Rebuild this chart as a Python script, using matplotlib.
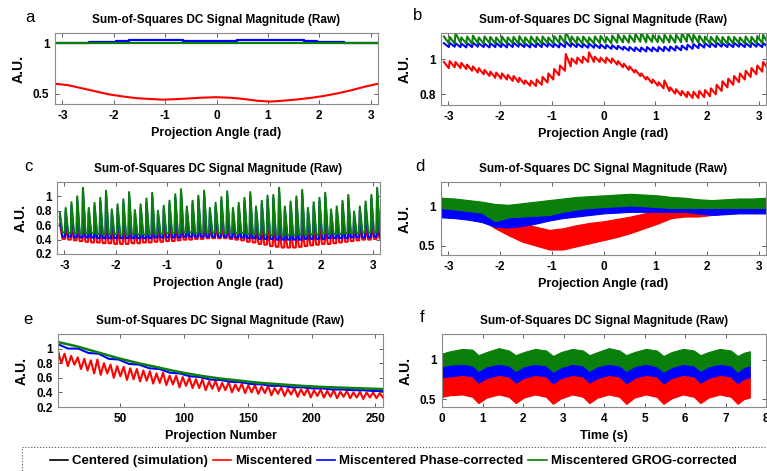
import numpy as np
import matplotlib
matplotlib.use("Agg")
import matplotlib.pyplot as plt
from matplotlib.patches import Rectangle
from matplotlib.lines import Line2D
from matplotlib.ticker import FuncFormatter

plt.rcParams['font.family'] = ['Liberation Sans', 'DejaVu Sans']
plt.rcParams['font.weight'] = 'bold'
plt.rcParams['axes.labelweight'] = 'bold'
plt.rcParams['axes.unicode_minus'] = False

RED = '#ff0000'
BLUE = '#0000ff'
GREEN = '#0a7f0a'
BLACK = '#000000'

TITLE = "Sum-of-Squares DC Signal Magnitude (Raw)"
legend_labels = ["Centered (simulation)", "Miscentered",
                 "Miscentered Phase-corrected", "Miscentered GROG-corrected"]

# ---- panel a : simulation, 25 angles from -pi to pi
a_red = [0.600, 0.585, 0.555, 0.525, 0.495, 0.475, 0.458, 0.450, 0.443, 0.448,
         0.455, 0.463, 0.467, 0.462, 0.450, 0.432, 0.424, 0.433, 0.445, 0.460,
         0.480, 0.505, 0.535, 0.570, 0.600]
a_blue = [1.0, 1.0, 1.0, 1.01, 1.015, 1.02, 1.03, 1.03, 1.03, 1.03,
          1.025, 1.02, 1.02, 1.02, 1.03, 1.03, 1.03, 1.03, 1.03, 1.02,
          1.015, 1.01, 1.005, 1.0, 1.0]
a_black = [1.0, 1.0]
a_green = [1.005, 1.005]

# ---- panel b : 56 projections, peak / trough of each tooth
b_red_hi = [0.985, 0.99, 0.985, 0.98, 0.97, 0.96, 0.95, 0.94, 0.93, 0.925,
            0.92, 0.912, 0.905, 0.895, 0.88, 0.878, 0.885, 0.9, 0.92, 0.945,
            0.965, 1.03, 1.005, 1.01, 1.015, 1.04, 1.015, 1.01, 1.01, 1.005,
            0.99, 0.975, 0.96, 0.94, 0.92, 0.9, 0.885, 0.87, 0.88, 0.84,
            0.83, 0.82, 0.815, 0.815, 0.82, 0.825, 0.835, 0.855, 0.875, 0.89,
            0.905, 0.92, 0.935, 0.95, 0.965, 0.985]
b_red_lo = [0.95, 0.955, 0.95, 0.945, 0.935, 0.925, 0.915, 0.905, 0.895, 0.89,
            0.885, 0.877, 0.87, 0.86, 0.85, 0.848, 0.855, 0.868, 0.885, 0.91,
            0.935, 0.96, 0.975, 0.98, 0.985, 0.985, 0.985, 0.98, 0.98, 0.97,
            0.955, 0.94, 0.925, 0.905, 0.885, 0.865, 0.85, 0.835, 0.82, 0.805,
            0.795, 0.785, 0.78, 0.78, 0.785, 0.79, 0.8, 0.82, 0.84, 0.855,
            0.87, 0.885, 0.9, 0.915, 0.93, 0.945]
b_blue_hi = [1.092, 1.094, 1.092, 1.09, 1.092, 1.095, 1.092, 1.09, 1.092, 1.093,
             1.09, 1.092, 1.095, 1.092, 1.09, 1.092, 1.093, 1.095, 1.092, 1.09,
             1.092, 1.1, 1.092, 1.09, 1.088, 1.09, 1.086, 1.084, 1.082, 1.08,
             1.077, 1.072, 1.07, 1.068, 1.067, 1.07, 1.068, 1.07, 1.072, 1.073,
             1.075, 1.078, 1.083, 1.087, 1.09, 1.092, 1.093, 1.095, 1.092, 1.092,
             1.094, 1.092, 1.092, 1.095, 1.092, 1.093]
b_blue_lo = [1.07, 1.072, 1.07, 1.068, 1.07, 1.072, 1.07, 1.068, 1.07, 1.07,
             1.068, 1.07, 1.072, 1.07, 1.068, 1.07, 1.07, 1.072, 1.07, 1.068,
             1.07, 1.072, 1.07, 1.068, 1.066, 1.066, 1.064, 1.062, 1.06, 1.058,
             1.055, 1.05, 1.047, 1.045, 1.045, 1.046, 1.045, 1.047, 1.048, 1.05,
             1.052, 1.055, 1.06, 1.064, 1.067, 1.07, 1.07, 1.072, 1.07, 1.07,
             1.072, 1.07, 1.07, 1.072, 1.07, 1.07]
b_green_hi = [1.13, 1.128, 1.15, 1.125, 1.13, 1.135, 1.125, 1.13, 1.128, 1.125,
              1.13, 1.125, 1.128, 1.132, 1.125, 1.13, 1.127, 1.13, 1.125, 1.132,
              1.135, 1.16, 1.13, 1.128, 1.13, 1.125, 1.13, 1.133, 1.128, 1.135,
              1.14, 1.135, 1.138, 1.145, 1.155, 1.14, 1.138, 1.135, 1.14, 1.137,
              1.14, 1.15, 1.155, 1.14, 1.135, 1.13, 1.128, 1.132, 1.127, 1.13,
              1.128, 1.125, 1.13, 1.128, 1.132, 1.14]
b_green_lo = [1.092, 1.09, 1.095, 1.09, 1.088, 1.092, 1.09, 1.093, 1.09, 1.088,
              1.09, 1.092, 1.09, 1.088, 1.09, 1.092, 1.09, 1.093, 1.09, 1.095,
              1.093, 1.095, 1.092, 1.09, 1.092, 1.09, 1.093, 1.095, 1.092, 1.095,
              1.097, 1.095, 1.098, 1.1, 1.097, 1.1, 1.098, 1.095, 1.097, 1.095,
              1.098, 1.1, 1.097, 1.095, 1.093, 1.09, 1.092, 1.09, 1.088, 1.09,
              1.092, 1.09, 1.088, 1.09, 1.092, 1.09]

# ---- panel c : 56 projections, spiky
c_red_hi = [0.62, 0.60, 0.60, 0.59, 0.60, 0.58, 0.58, 0.57, 0.58, 0.56,
            0.57, 0.56, 0.57, 0.56, 0.57, 0.57, 0.58, 0.57, 0.58, 0.59,
            0.59, 0.61, 0.60, 0.60, 0.61, 0.61, 0.60, 0.61, 0.61, 0.60,
            0.60, 0.59, 0.58, 0.58, 0.57, 0.56, 0.55, 0.55, 0.56, 0.54,
            0.55, 0.55, 0.56, 0.55, 0.56, 0.57, 0.57, 0.58, 0.58, 0.59,
            0.59, 0.59, 0.60, 0.60, 0.61, 0.62]
c_red_lo = [0.41, 0.40, 0.39, 0.38, 0.37, 0.36, 0.36, 0.35, 0.35, 0.34,
            0.34, 0.34, 0.35, 0.35, 0.36, 0.36, 0.37, 0.37, 0.38, 0.38,
            0.39, 0.40, 0.40, 0.41, 0.41, 0.42, 0.42, 0.42, 0.42, 0.41,
            0.40, 0.39, 0.37, 0.36, 0.34, 0.33, 0.31, 0.30, 0.29, 0.29,
            0.29, 0.30, 0.31, 0.32, 0.33, 0.34, 0.34, 0.35, 0.36, 0.37,
            0.38, 0.39, 0.40, 0.40, 0.41, 0.41]
c_blue_hi = [0.72, 0.79, 0.87, 0.95, 1.06, 0.79, 0.86, 0.93, 1.03, 0.77,
             0.84, 0.91, 1.01, 0.76, 0.84, 0.92, 1.00, 0.75, 0.82, 0.89,
             0.98, 1.05, 0.81, 0.89, 0.96, 1.03, 0.79, 0.86, 0.94, 1.02,
             0.79, 0.86, 0.93, 1.01, 0.81, 0.89, 0.96, 0.97, 1.07, 0.81,
             0.88, 0.95, 1.04, 0.79, 0.87, 0.93, 1.00, 0.77, 0.81, 0.89,
             0.97, 0.74, 0.81, 0.88, 0.97, 1.07]
c_blue_lo = [0.44, 0.44, 0.43, 0.43, 0.43, 0.43, 0.42, 0.42, 0.42, 0.42,
             0.42, 0.42, 0.42, 0.42, 0.42, 0.42, 0.43, 0.43, 0.43, 0.43,
             0.43, 0.44, 0.44, 0.44, 0.44, 0.44, 0.44, 0.44, 0.44, 0.43,
             0.43, 0.43, 0.42, 0.42, 0.41, 0.41, 0.41, 0.40, 0.40, 0.40,
             0.40, 0.40, 0.41, 0.41, 0.41, 0.41, 0.42, 0.42, 0.42, 0.42,
             0.43, 0.43, 0.43, 0.43, 0.44, 0.44]
c_green_hi = [0.77, 0.84, 0.92, 1.00, 1.12, 0.84, 0.91, 0.98, 1.08, 0.82,
              0.89, 0.96, 1.06, 0.81, 0.89, 0.97, 1.05, 0.80, 0.87, 0.94,
              1.03, 1.10, 0.86, 0.94, 1.01, 1.08, 0.84, 0.91, 0.99, 1.07,
              0.84, 0.91, 0.98, 1.06, 0.86, 0.94, 1.01, 1.02, 1.12, 0.86,
              0.93, 1.00, 1.09, 0.84, 0.92, 0.98, 1.05, 0.82, 0.86, 0.94,
              1.02, 0.79, 0.86, 0.93, 1.02, 1.12]
c_green_lo = [0.50, 0.49, 0.49, 0.48, 0.49, 0.49, 0.48, 0.48, 0.48, 0.48,
              0.47, 0.47, 0.48, 0.47, 0.47, 0.48, 0.48, 0.48, 0.49, 0.49,
              0.49, 0.50, 0.50, 0.49, 0.50, 0.50, 0.50, 0.49, 0.49, 0.50,
              0.49, 0.49, 0.48, 0.48, 0.47, 0.47, 0.46, 0.47, 0.46, 0.46,
              0.46, 0.47, 0.47, 0.47, 0.47, 0.48, 0.48, 0.48, 0.48, 0.49,
              0.49, 0.49, 0.50, 0.50, 0.50, 0.50]

# ---- panel d : band edges at 25 angles from -pi to pi
d_red_hi = [1.11, 1.08, 1.03, 0.97, 0.90, 0.84, 0.79, 0.74, 0.70, 0.72,
            0.76, 0.79, 0.81, 0.84, 0.87, 0.91, 0.95, 0.97, 0.96, 0.95,
            0.97, 1.00, 1.04, 1.07, 1.09]
d_red_lo = [0.96, 0.92, 0.87, 0.83, 0.72, 0.63, 0.55, 0.50, 0.45, 0.45,
            0.49, 0.53, 0.57, 0.61, 0.66, 0.72, 0.78, 0.85, 0.87, 0.87,
            0.89, 0.91, 0.93, 0.96, 0.97]
d_blue_hi = [1.00, 0.98, 0.96, 0.94, 0.90, 0.90, 0.92, 0.95, 0.98, 1.00,
             1.02, 1.05, 1.08, 1.10, 1.12, 1.11, 1.10, 1.07, 1.04, 1.04,
             1.04, 1.06, 1.08, 1.08, 1.08]
d_blue_lo = [0.86, 0.85, 0.83, 0.80, 0.74, 0.73, 0.75, 0.78, 0.82, 0.85,
             0.87, 0.89, 0.91, 0.92, 0.93, 0.93, 0.93, 0.93, 0.93, 0.91,
             0.89, 0.90, 0.91, 0.91, 0.91]
d_green_hi = [1.11, 1.10, 1.08, 1.06, 1.03, 1.02, 1.04, 1.06, 1.08, 1.10,
              1.12, 1.13, 1.14, 1.15, 1.16, 1.15, 1.14, 1.12, 1.11, 1.09,
              1.08, 1.09, 1.10, 1.10, 1.11]
d_green_lo = [0.98, 0.96, 0.94, 0.92, 0.81, 0.86, 0.87, 0.88, 0.89, 0.93,
              0.96, 0.98, 0.99, 1.00, 1.01, 1.00, 0.99, 0.98, 0.98, 0.98,
              0.98, 0.98, 0.98, 0.98, 0.98]

# ---- panel e : projection number 1..256
e_green_x = [1, 16, 32, 48, 64, 80, 96, 112, 128, 144, 160, 176, 192, 208, 224, 240, 256]
e_green = [1.09, 1.03, 0.95, 0.87, 0.80, 0.74, 0.68, 0.63, 0.59, 0.56, 0.53, 0.51,
           0.49, 0.475, 0.465, 0.455, 0.445]
e_blue = [1.06, 1.00, 1.00, 0.94, 0.93, 0.86, 0.85, 0.79, 0.78, 0.73, 0.72, 0.67,
          0.66, 0.62, 0.61, 0.575, 0.57, 0.545, 0.54, 0.515, 0.51, 0.49, 0.49, 0.47,
          0.47, 0.455, 0.455, 0.44, 0.44, 0.43, 0.43, 0.42, 0.42]
e_red = [0.97, 0.80, 0.93, 0.76, 0.90, 0.78, 0.88, 0.72, 0.86, 0.70,
         0.84, 0.66, 0.85, 0.64, 0.80, 0.66, 0.78, 0.60, 0.76, 0.62,
         0.75, 0.57, 0.73, 0.58, 0.72, 0.55, 0.70, 0.56, 0.69, 0.52,
         0.66, 0.53, 0.67, 0.50, 0.63, 0.51, 0.63, 0.47, 0.61, 0.49,
         0.60, 0.46, 0.58, 0.46, 0.58, 0.43, 0.55, 0.45, 0.56, 0.42,
         0.53, 0.43, 0.54, 0.40, 0.51, 0.42, 0.52, 0.39, 0.50, 0.40,
         0.50, 0.38, 0.48, 0.39, 0.49, 0.36, 0.46, 0.38, 0.47, 0.35,
         0.45, 0.37, 0.46, 0.34, 0.44, 0.36, 0.45, 0.33, 0.43, 0.35,
         0.44, 0.33, 0.42, 0.34, 0.43, 0.32, 0.41, 0.34, 0.42, 0.32,
         0.40, 0.33, 0.41, 0.31, 0.40, 0.33, 0.40, 0.32, 0.39, 0.33]

# ---- panel f : time (s), band edges
f_t = [0.0, 0.2, 0.5, 0.75, 0.9, 1.1, 1.4, 1.65, 1.82, 2.02, 2.3, 2.57, 2.74, 2.94,
       3.22, 3.48, 3.64, 3.84, 4.12, 4.38, 4.55, 4.75, 5.03, 5.3, 5.47, 5.67, 5.95,
       6.22, 6.38, 6.58, 6.86, 7.13, 7.3, 7.45, 7.6]
f_green_hi = [1.08, 1.11, 1.14, 1.13, 1.06, 1.10, 1.15, 1.12, 1.06, 1.10, 1.14, 1.12,
              1.05, 1.10, 1.14, 1.12, 1.06, 1.10, 1.15, 1.12, 1.06, 1.10, 1.14, 1.12,
              1.05, 1.10, 1.14, 1.12, 1.06, 1.10, 1.14, 1.12, 1.05, 1.09, 1.11]
f_green_lo = [0.92, 0.94, 0.95, 0.93, 0.86, 0.92, 0.95, 0.93, 0.86, 0.92, 0.95, 0.93,
              0.85, 0.91, 0.95, 0.93, 0.86, 0.92, 0.95, 0.93, 0.86, 0.92, 0.95, 0.92,
              0.85, 0.91, 0.95, 0.93, 0.86, 0.92, 0.95, 0.93, 0.85, 0.91, 0.93]
f_blue_hi = [1.00, 1.03, 1.04, 1.02, 0.96, 1.00, 1.04, 1.02, 0.96, 1.00, 1.03, 1.02,
             0.95, 1.00, 1.04, 1.02, 0.96, 1.00, 1.04, 1.02, 0.96, 1.00, 1.03, 1.02,
             0.95, 1.00, 1.04, 1.02, 0.96, 1.00, 1.03, 1.02, 0.95, 0.99, 1.00]
f_blue_lo = [0.78, 0.79, 0.81, 0.79, 0.71, 0.77, 0.81, 0.79, 0.71, 0.77, 0.81, 0.79,
             0.70, 0.77, 0.81, 0.79, 0.71, 0.77, 0.81, 0.79, 0.70, 0.77, 0.81, 0.79,
             0.70, 0.77, 0.81, 0.79, 0.71, 0.77, 0.81, 0.79, 0.70, 0.76, 0.78]
f_red_hi = [0.82, 0.84, 0.86, 0.84, 0.76, 0.82, 0.86, 0.84, 0.76, 0.82, 0.86, 0.84,
            0.75, 0.82, 0.86, 0.84, 0.76, 0.82, 0.86, 0.84, 0.75, 0.82, 0.86, 0.84,
            0.75, 0.82, 0.86, 0.84, 0.76, 0.82, 0.86, 0.84, 0.75, 0.81, 0.83]
f_red_lo = [0.53, 0.55, 0.56, 0.53, 0.45, 0.52, 0.56, 0.53, 0.45, 0.52, 0.56, 0.53,
            0.44, 0.51, 0.56, 0.53, 0.45, 0.52, 0.56, 0.53, 0.44, 0.52, 0.56, 0.53,
            0.44, 0.51, 0.56, 0.53, 0.45, 0.52, 0.56, 0.53, 0.44, 0.50, 0.52]


def teeth(ax, hi, lo, color, fall, lw=1.5):
    # one tooth per projection: peak, then decay to trough
    n = len(hi)
    step = 2 * np.pi / n
    x = -np.pi + (np.arange(n) + 0.5) * step
    xs = np.column_stack([x] + [x + f * step for f in fall]).ravel()
    ys = np.column_stack([hi] + [lo] * len(fall)).ravel()
    ax.plot(xs, ys, color=color, lw=lw)


W, H = 767, 471
fig = plt.figure(figsize=(W / 100, H / 100), dpi=100)


def make_ax(x0, y0, x1, y1):
    return fig.add_axes([x0 / W, 1 - y1 / H, (x1 - x0) / W, (y1 - y0) / H])


ax_a = make_ax(55, 33, 378, 104)
ax_b = make_ax(441, 33, 766, 105)
ax_c = make_ax(57, 182, 380, 254)
ax_d = make_ax(441, 182, 766, 255)
ax_e = make_ax(58, 334, 383, 407)
ax_f = make_ax(442, 334, 766, 407)

# a
a_x = np.linspace(-np.pi, np.pi, len(a_red))
ends = [-np.pi, np.pi]
ax_a.plot(a_x, a_red, color=RED, lw=1.5)
ax_a.plot(ends, a_black, color=BLACK, lw=1.5)
ax_a.plot(a_x, a_blue, color=BLUE, lw=1.6, drawstyle='steps-mid')
ax_a.plot(ends, a_green, color=GREEN, lw=1.5)
ax_a.set_ylim(0.4, 1.1)
ax_a.set_yticks([0.5, 1])

# b
teeth(ax_b, b_red_hi, b_red_lo, RED, [0.85])
teeth(ax_b, b_blue_hi, b_blue_lo, BLUE, [0.85])
teeth(ax_b, b_green_hi, b_green_lo, GREEN, [0.85])
ax_b.set_ylim(0.74, 1.15)
ax_b.set_yticks([0.8, 1])

# c
teeth(ax_c, c_red_hi, c_red_lo, RED, [0.45, 0.9])
teeth(ax_c, c_blue_hi, c_blue_lo, BLUE, [0.45, 0.9])
teeth(ax_c, c_green_hi, c_green_lo, GREEN, [0.45, 0.9])
ax_c.set_ylim(0.2, 1.2)
ax_c.set_yticks([0.2, 0.4, 0.6, 0.8, 1])

# d
d_x = np.linspace(-np.pi, np.pi, len(d_red_hi))
ax_d.fill_between(d_x, d_red_lo, d_red_hi, color=RED, lw=0.8)
ax_d.fill_between(d_x, d_blue_lo, d_blue_hi, color=BLUE, lw=0.8)
ax_d.fill_between(d_x, d_green_lo, d_green_hi, color=GREEN, lw=0.8)
ax_d.set_ylim(0.38, 1.31)
ax_d.set_yticks([0.5, 1])

for ax in (ax_a, ax_b, ax_c, ax_d):
    ax.set_xlim(-np.pi, np.pi)
    ax.set_xticks([-3, -2, -1, 0, 1, 2, 3])
    ax.set_xlabel("Projection Angle (rad)")

# e
e_red_x = np.linspace(1, 256, len(e_red))
e_blue_x = np.linspace(1, 256, len(e_blue))
ax_e.plot(e_red_x, e_red, color=RED, lw=1.5)
ax_e.plot(e_blue_x, e_blue, color=BLUE, lw=1.5)
ax_e.plot(e_green_x, e_green, color=GREEN, lw=1.8)
ax_e.set_xlim(1, 256)
ax_e.set_xticks([50, 100, 150, 200, 250])
ax_e.set_ylim(0.2, 1.2)
ax_e.set_yticks([0.2, 0.4, 0.6, 0.8, 1])
ax_e.set_xlabel("Projection Number")

# f
ax_f.fill_between(f_t, f_red_lo, f_red_hi, color=RED, lw=0.8)
ax_f.fill_between(f_t, f_blue_lo, f_blue_hi, color=BLUE, lw=0.8)
ax_f.fill_between(f_t, f_green_lo, f_green_hi, color=GREEN, lw=0.8)
ax_f.set_xlim(0, 8)
ax_f.set_xticks(range(9))
ax_f.set_ylim(0.4, 1.33)
ax_f.set_yticks([0.5, 1])
ax_f.set_xlabel("Time (s)")

fmt = FuncFormatter(lambda v, p: "%g" % v)
for ax in (ax_a, ax_b, ax_c, ax_d, ax_e, ax_f):
    ax.set_title(TITLE, fontsize=8.5, fontweight='bold', pad=7)
    ax.set_ylabel("A.U.", fontsize=10, fontweight='bold', labelpad=5)
    ax.xaxis.label.set_size(9)
    ax.yaxis.set_major_formatter(fmt)
    ax.tick_params(direction='in', length=3, width=0.6, top=True, right=True,
                   labelsize=8.5, pad=4, color='#444444')
    for lab in ax.get_xticklabels() + ax.get_yticklabels():
        lab.set_fontweight('bold')
    for s in ax.spines.values():
        s.set_color('#8a8a8a')
        s.set_linewidth(0.8)

# panel letters
for letter, px, py in [('a', 30, 18), ('b', 418, 15), ('c', 28, 167),
                       ('d', 420, 167), ('e', 28, 320), ('f', 422, 317)]:
    fig.text(px / W, 1 - py / H, letter, fontsize=12, fontweight='normal',
             ha='center', va='center')

# legend
handles = [Line2D([], [], color=c, lw=1.2) for c in (BLACK, RED, BLUE, GREEN)]
fig.legend(handles, legend_labels, loc='center', bbox_to_anchor=(393 / W, 1 - 461 / H),
           ncol=4, frameon=False, handlelength=1.4, handletextpad=0.3,
           columnspacing=0.35, prop={'weight': 'bold', 'size': 9.5})
fig.patches.append(Rectangle((22 / W, -0.02), 1.0, (471 - 447) / H + 0.02,
                             transform=fig.transFigure, fill=False,
                             edgecolor='#555555', lw=0.8, ls=':'))

fig.savefig("out.png", dpi=100)
